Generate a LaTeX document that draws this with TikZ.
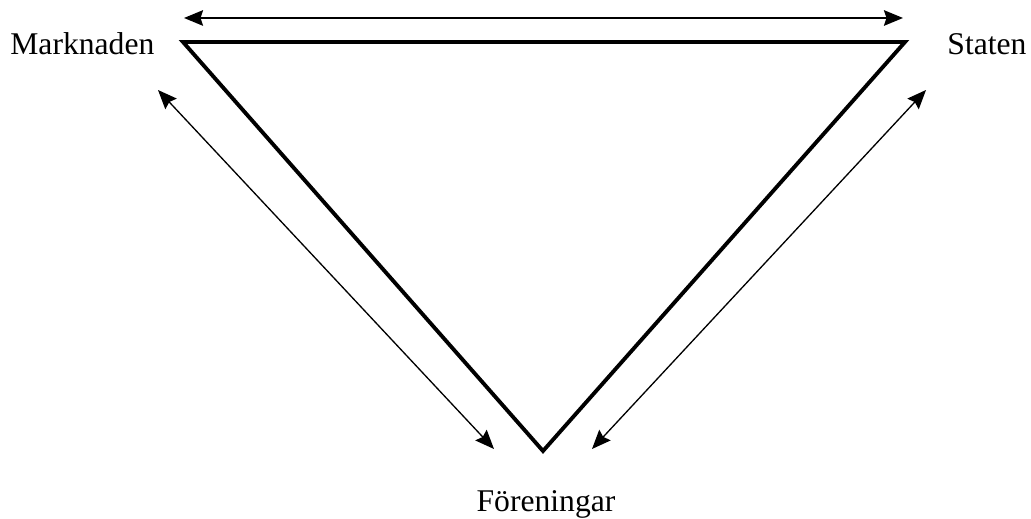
\documentclass[tikz,border=0pt]{standalone}
\usepackage{fontspec}
\setmainfont{Liberation Serif}
\usetikzlibrary{arrows.meta, positioning}

\begin{document}
\begin{tikzpicture}[
    x=0.02cm, y=-0.02cm,
    side/.style={line width=2.2pt, line join=miter},
    link/.style={{Stealth[length=3.8mm, width=3.1mm, inset=0.5mm]}-{Stealth[length=3.8mm, width=3.1mm, inset=0.5mm]}, line width=0.75pt},
    actor/.style={font=\fontsize{18}{22}\selectfont, inner sep=0pt}
]
\useasboundingbox (0,0) rectangle (1031,519);
% corners of the triangle
\coordinate (tl) at (183,42);
\coordinate (tr) at (905,42);
\coordinate (bot) at (543,451);
\draw[side] (tl) -- (tr) -- (bot) -- cycle;

\node[actor, anchor=base west] (market) at (10,55) {Marknaden};
\node[actor, anchor=base] (state) at (987,55) {Staten};
\node[actor, anchor=base] (assoc) at (546,512) {Föreningar};

% two-way arrows
\coordinate (tA) at (184,18);
\coordinate (tB) at (903,18);
\coordinate (lA) at (158,90);
\coordinate (lB) at (494,449);
\coordinate (rA) at (926,90);
\coordinate (rB) at (592,449);
\draw[link, line width=1.1pt] (tA) -- (tB);
\draw[link] (lA) -- (lB);
\draw[link] (rA) -- (rB);
\end{tikzpicture}
\end{document}
